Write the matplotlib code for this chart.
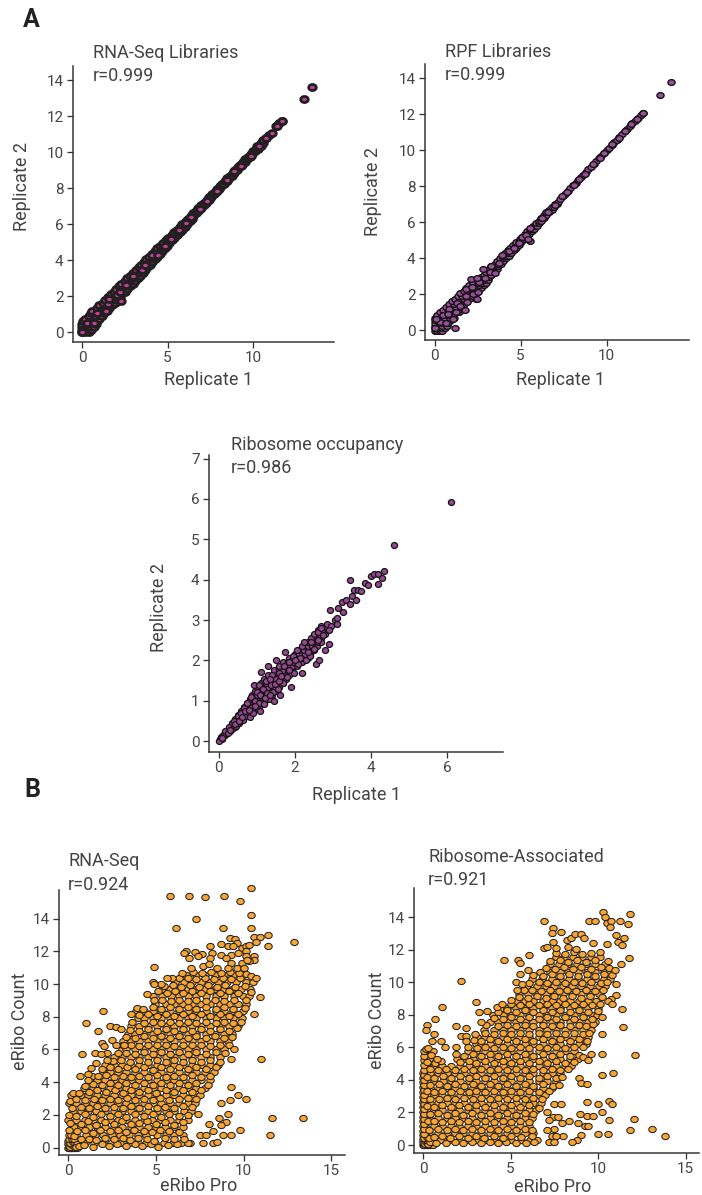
import numpy as np
import matplotlib
matplotlib.use('Agg')
import matplotlib.pyplot as plt
from matplotlib.markers import MarkerStyle
from matplotlib.transforms import Affine2D

plt.rcParams['font.family'] = ['Roboto', 'DejaVu Sans']

# (replicate 1, replicate 2)
rna_lib_pts = [
    (0.0, 0.0), (0.28, 0.5), (0.68, 0.5), (0.9, 1.05), (1.4, 1.2), (1.5, 1.55), (1.6, 1.85), (2.05, 2.05), (2.25, 1.75),
    (2.2, 2.25), (2.55, 2.6), (3.0, 3.1), (3.5, 3.45), (3.7, 3.75), (4.1, 4.3), (4.45, 4.3), (4.85, 4.8), (5.2, 5.2),
    (5.65, 5.65), (6.1, 6.05), (6.35, 6.4), (6.9, 6.85), (7.3, 7.3), (7.9, 7.85), (8.5, 8.45), (8.9, 8.95), (9.3, 9.25),
    (9.85, 9.8), (10.35, 10.35), (10.75, 10.8), (11.4, 11.45), (11.7, 11.75), (12.95, 12.95), (13.45, 13.6),
]
# rows of the dense band: (replicate 2, [replicate 1, ...])
rna_lib_rows = [
    (0.0, [0.0, 0.2, 0.4]), (0.15, [0.0, 0.3, 0.55]), (0.3, [0.0, 0.4, 0.7]), (0.45, [0.0, 0.3, 0.8]), (0.6, [0.05, 0.45, 0.9]),
    (0.75, [0.2, 0.6, 1.0]), (0.9, [0.4, 0.75, 1.15]), (1.05, [0.5, 0.85, 1.3]), (1.2, [0.6, 1.0, 1.45]), (1.35, [0.85, 1.2, 1.6]),
    (1.5, [1.0, 1.35, 1.75]), (1.65, [1.2, 1.5, 1.9]), (1.8, [1.35, 1.7, 2.05]), (1.95, [1.5, 1.85, 2.2]), (2.1, [1.7, 2.0, 2.3]),
    (2.25, [1.85, 2.15, 2.5]), (2.4, [2.0, 2.3, 2.65]), (2.55, [2.15, 2.5, 2.8]), (2.7, [2.3, 2.65, 2.95]), (2.85, [2.5, 2.8, 3.1]),
    (3.0, [2.65, 2.95, 3.25]), (3.15, [2.8, 3.1, 3.4]), (3.3, [2.95, 3.25, 3.55]), (3.45, [3.15, 3.4, 3.7]), (3.6, [3.3, 3.55, 3.8]),
    (3.75, [3.45, 3.7, 3.95]), (3.9, [3.6, 3.85, 4.1]), (4.05, [3.75, 4.0, 4.25]), (4.2, [3.9, 4.15, 4.4]), (4.35, [4.1, 4.3, 4.55]),
    (4.5, [4.25, 4.45, 4.7]), (4.65, [4.4, 4.6, 4.85]), (4.8, [4.55, 4.75, 4.95]), (4.95, [4.75, 4.95, 5.1]), (5.1, [4.9, 5.05, 5.25]),
    (5.25, [5.05, 5.2, 5.4]), (5.4, [5.25, 5.4, 5.55]), (5.55, [5.4, 5.55, 5.7]), (5.7, [5.55, 5.7, 5.85]), (5.85, [5.7, 5.85, 6.0]),
    (6.0, [5.85, 6.0, 6.15]), (6.15, [6.05, 6.2, 6.3]), (6.3, [6.2, 6.35, 6.45]), (6.45, [6.35, 6.5]), (6.6, [6.5, 6.65]),
    (6.75, [6.65, 6.8]), (6.9, [6.8, 6.95]), (7.05, [6.95, 7.1]), (7.2, [7.1, 7.25]), (7.35, [7.3, 7.4]), (7.5, [7.45, 7.55]),
    (7.65, [7.6, 7.7]), (7.8, [7.75, 7.85]), (7.95, [7.9, 8.0]), (8.1, [8.05, 8.15]), (8.25, [8.2, 8.3]), (8.4, [8.35, 8.45]),
    (8.55, [8.5, 8.6]), (8.7, [8.65, 8.75]), (8.85, [8.8, 8.9]), (9.0, [8.95, 9.05]), (9.15, [9.1, 9.2]), (9.3, [9.25, 9.35]),
    (9.45, [9.4, 9.5]), (9.6, [9.55, 9.65]), (9.75, [9.7, 9.8]), (9.9, [9.85, 9.95]), (10.05, [10.0, 10.1]), (10.2, [10.15, 10.3]),
    (10.35, [10.25, 10.45]), (10.5, [10.45, 10.55]), (10.65, [10.6]), (10.8, [10.75]), (10.95, [10.95]), (11.05, [11.1]),
    (11.45, [11.35]), (11.6, [11.5]), (11.75, [11.7]),
]
rpf_lib_pts = [
    (0.0, 0.1), (0.3, 0.45), (0.1, 0.6), (0.5, 0.85), (0.65, 0.4), (0.85, 1.2), (0.8, 0.9), (1.05, 0.6), (1.25, 1.0),
    (1.3, 1.5), (1.5, 1.35), (1.8, 2.3), (1.8, 1.9), (2.15, 2.4), (1.9, 1.55), (2.25, 2.0), (2.6, 2.7), (2.55, 2.15),
    (2.95, 2.9), (3.2, 3.25), (3.3, 3.55), (3.5, 3.2), (3.75, 3.75), (3.9, 4.2), (4.3, 4.4), (4.6, 4.55), (4.9, 4.85),
    (5.1, 5.2), (5.3, 5.3), (5.55, 5.7), (5.55, 4.98), (6.25, 6.25), (6.6, 6.6), (7.0, 6.95), (7.4, 7.45), (7.7, 7.7),
    (8.1, 8.05), (8.4, 8.4), (8.75, 8.7), (9.2, 9.25), (9.6, 9.6), (9.85, 9.85), (10.3, 10.35), (10.7, 10.7), (11.05, 11.1),
    (11.4, 11.45), (11.75, 11.75), (12.15, 12.1), (13.1, 13.1), (13.75, 13.8), (1.2, 0.1), (2.1, 2.85), (2.45, 2.9), (2.45, 1.75),
    (2.8, 3.4), (5.45, 5.05), (1.75, 1.15),
]
rpf_lib_rows = [
    (-0.05, [0.0, 0.15, 0.3, 0.45]), (0.1, [0.0, 0.2, 0.4, 0.6]), (0.25, [0.0, 0.15, 0.4, 0.7]), (0.4, [0.0, 0.25, 0.5, 0.8]),
    (0.55, [0.0, 0.2, 0.45, 0.7, 0.95]), (0.7, [0.05, 0.3, 0.6, 0.9, 1.1]), (0.85, [0.15, 0.45, 0.75, 1.05]), (1.0, [0.3, 0.6, 0.9, 1.25, 1.4]),
    (1.15, [0.5, 0.8, 1.05, 1.35]), (1.3, [0.65, 0.95, 1.25, 1.55]), (1.45, [0.85, 1.1, 1.4, 1.7]), (1.6, [1.0, 1.3, 1.55, 1.8]),
    (1.75, [1.2, 1.45, 1.7, 2.0, 2.4]), (1.9, [1.35, 1.6, 1.9, 2.2]), (2.05, [1.5, 1.8, 2.1, 2.4]), (2.2, [1.7, 1.95, 2.2, 2.5]),
    (2.35, [1.8, 2.1, 2.4, 2.7]), (2.5, [2.0, 2.3, 2.6, 2.85]), (2.65, [2.25, 2.5, 2.75, 3.0]), (2.8, [2.5, 2.7, 2.95, 3.1]),
    (2.95, [2.7, 2.9, 3.15]), (3.1, [2.85, 3.1, 3.3]), (3.25, [3.0, 3.25, 3.45]), (3.4, [3.15, 3.4, 3.6]), (3.55, [3.3, 3.5, 3.7]),
    (3.7, [3.5, 3.7, 3.85]), (3.85, [3.65, 3.85, 4.0]), (4.0, [3.8, 4.0, 4.15]), (4.15, [3.95, 4.15, 4.3]), (4.3, [4.1, 4.3, 4.45]),
    (4.45, [4.25, 4.45, 4.6]), (4.6, [4.4, 4.6, 4.75]), (4.75, [4.55, 4.75, 4.9]), (4.9, [4.75, 4.9, 5.05]), (5.05, [4.95, 5.05, 5.2]),
    (5.2, [5.1, 5.25, 5.35]), (5.35, [5.25, 5.4, 5.5]), (5.5, [5.4, 5.55, 5.65]), (5.65, [5.55, 5.7, 5.8]), (5.8, [5.7, 5.85, 5.95]),
    (5.95, [5.9, 6.05]), (6.1, [6.05, 6.2]), (6.25, [6.2, 6.35]), (6.4, [6.35, 6.5]), (6.55, [6.5, 6.65]), (6.7, [6.65, 6.8]),
    (6.85, [6.85, 6.95]), (7.0, [7.0, 7.1]), (7.15, [7.15]), (7.3, [7.3]), (7.45, [7.45]), (7.6, [7.6]), (7.75, [7.75]), (7.9, [7.9]),
    (8.05, [8.05]), (8.2, [8.2]), (8.35, [8.35]), (8.5, [8.5]), (8.65, [8.65]), (8.8, [8.8]), (8.95, [8.95]), (9.1, [9.1]), (9.25, [9.25]),
    (9.4, [9.4]), (9.55, [9.55]), (9.7, [9.7]), (9.85, [9.85]), (10.0, [10.0]), (10.15, [10.15]), (10.3, [10.3]), (10.45, [10.45]),
    (10.6, [10.6]), (10.75, [10.75]), (10.9, [10.9]), (11.05, [11.05]), (11.2, [11.2]), (11.35, [11.35]), (11.5, [11.5]), (11.65, [11.65]),
    (11.8, [11.85]), (11.95, [12.0]), (12.1, [12.15]),
]
occ_pts = [
    (0.02, 0.0), (0.06, 0.1), (0.12, 0.12), (0.18, 0.25), (0.25, 0.2), (0.28, 0.35), (0.35, 0.3), (0.4, 0.5), (0.45, 0.38),
    (0.5, 0.62), (0.52, 0.44), (0.58, 0.55), (0.6, 0.7), (0.65, 0.52), (0.68, 0.82), (0.72, 0.62), (0.75, 0.95),
    (0.78, 0.72), (0.82, 0.6), (0.85, 1.1), (0.88, 0.85), (0.9, 0.7), (0.92, 1.38), (0.95, 1.0), (1.0, 1.22), (1.0, 0.82),
    (1.05, 1.38), (1.05, 0.95), (1.1, 0.75), (1.12, 1.72), (1.15, 1.1), (1.18, 1.3), (1.2, 0.92), (1.25, 1.5), (1.28, 1.2),
    (1.3, 1.85), (1.32, 1.05), (1.38, 1.4), (1.4, 1.65), (1.42, 1.22), (1.45, 1.0), (1.5, 2.0), (1.5, 1.55), (1.55, 1.3),
    (1.6, 1.7), (1.62, 1.15), (1.7, 1.45), (1.72, 1.85), (1.75, 2.2), (1.8, 1.6), (1.85, 1.95), (1.9, 1.35), (1.95, 2.1),
    (1.98, 1.7), (2.05, 2.25), (2.1, 1.9), (2.15, 2.05), (2.2, 1.7), (2.25, 2.45), (2.3, 2.0), (2.4, 2.1), (2.42, 2.45),
    (2.5, 2.28), (2.55, 1.9), (2.6, 2.7), (2.65, 2.0), (2.7, 2.45), (2.68, 2.8), (2.75, 2.62), (2.8, 2.25), (2.85, 2.9),
    (2.9, 2.4), (2.92, 3.25), (2.95, 2.85), (3.05, 3.0), (3.1, 2.9), (3.12, 3.05), (3.15, 3.3), (3.28, 3.2), (3.25, 3.45),
    (3.35, 3.5), (3.45, 4.0), (3.45, 3.4), (3.5, 3.6), (3.55, 3.75), (3.6, 3.5), (3.65, 3.75), (3.75, 3.73), (3.85, 3.93),
    (3.92, 3.88), (4.0, 4.08), (4.08, 4.13), (4.2, 3.9), (4.2, 4.13), (4.28, 4.05), (4.35, 4.22), (4.62, 4.85), (6.1, 5.93),
    (0.08, 0.08), (0.3, 0.28), (0.42, 0.42), (0.55, 0.5), (0.62, 0.6), (0.7, 0.75), (0.8, 0.78), (0.95, 0.88), (1.1, 1.15),
    (1.22, 1.08), (1.35, 1.15), (1.35, 1.55), (1.48, 1.42), (1.58, 1.5), (1.65, 1.62), (1.85, 1.75), (2.02, 2.0), (2.35, 2.22),
    (2.62, 2.5), (2.9, 2.75),
]
occ_rows = [
    (0.15, [0.12, 0.18]), (0.25, [0.22, 0.3]), (0.35, [0.3, 0.38, 0.42]), (0.45, [0.36, 0.45, 0.55]), (0.55, [0.44, 0.52, 0.64]),
    (0.65, [0.52, 0.6, 0.7, 0.78]), (0.75, [0.58, 0.68, 0.8, 0.9]), (0.85, [0.66, 0.76, 0.86, 0.98, 1.06]), (0.95, [0.74, 0.84, 0.96, 1.1, 1.2]),
    (1.05, [0.82, 0.94, 1.04, 1.18, 1.28]), (1.15, [0.88, 1.0, 1.12, 1.26, 1.4]), (1.25, [0.96, 1.08, 1.2, 1.34, 1.5]), (1.35, [1.04, 1.16, 1.3, 1.44, 1.6]),
    (1.45, [1.12, 1.24, 1.38, 1.52, 1.68]), (1.55, [1.2, 1.32, 1.46, 1.6, 1.76]), (1.65, [1.3, 1.44, 1.56, 1.7, 1.84]), (1.75, [1.46, 1.58, 1.7, 1.82, 1.94]),
    (1.85, [1.6, 1.72, 1.84, 1.96, 2.06]), (1.95, [1.7, 1.82, 1.96, 2.1, 2.2]), (2.05, [1.84, 1.96, 2.08, 2.2, 2.34]), (2.15, [2.0, 2.12, 2.26, 2.4]),
    (2.25, [2.12, 2.24, 2.36, 2.5]), (2.35, [2.2, 2.34, 2.46, 2.58]), (2.45, [2.34, 2.48, 2.62]), (2.55, [2.44, 2.58, 2.7]),
    (2.65, [2.5, 2.64, 2.8]), (2.75, [2.6, 2.72, 2.88]), (2.85, [2.7, 2.82, 2.92]), (0.05, [0.05, 0.08]),
]

# (eRibo Pro, eRibo Count)
rna_seq_pts = [
    (0.05, 0.1), (0.1, 0.05), (0.2, 0.15), (0.3, 0.1), (0.1, 0.3), (0.25, 0.35), (0.4, 0.3), (0.05, 0.5), (0.2, 0.55),
    (0.35, 0.5), (0.5, 0.2), (0.45, 0.05), (0.6, 0.1), (0.05, 0.8), (0.15, 0.75), (0.3, 0.7),
    (0.9, 0.15), (1.4, 0.05), (1.9, 0.2), (2.3, 0.1), (2.8, 0.25), (3.3, 0.1), (3.8, 0.2), (4.2, 0.1), (4.7, 0.2), (5.1, 0.05), (5.7, 0.15), (6.2, 0.25), (6.85, 0.3),
    (0.7, 0.5), (1.2, 0.55), (1.6, 0.45), (2.1, 0.6), (2.6, 0.5), (3.1, 0.6), (3.5, 0.45), (4.0, 0.6), (4.5, 0.55), (4.9, 0.4), (5.5, 0.6), (6.0, 0.5), (6.6, 0.55),
    (0.05, 1.1), (0.5, 1.0), (0.95, 1.05), (1.4, 0.9), (1.8, 1.05), (2.35, 1.0), (2.85, 1.1), (3.3, 0.95), (3.75, 1.05), (4.3, 1.0), (4.75, 0.95), (5.2, 1.1), (5.75, 1.0), (6.3, 0.95),
    (0.1, 1.5), (0.7, 1.45), (1.15, 1.6), (1.6, 1.4), (2.1, 1.55), (2.6, 1.45), (3.05, 1.6), (3.55, 1.45), (4.05, 1.5), (4.5, 1.6), (5.0, 1.45), (5.5, 1.55), (6.05, 1.4), (6.55, 1.55),
    (0.05, 2.0), (0.45, 1.95), (0.95, 2.05), (1.4, 1.9), (1.85, 2.05), (2.35, 1.95), (2.85, 2.05), (3.3, 1.9), (3.8, 2.05), (4.3, 1.95), (4.8, 2.05), (5.3, 1.9), (5.75, 2.05), (6.3, 1.95), (6.85, 2.0),
    (0.2, 2.45), (0.7, 2.5), (1.2, 2.4), (1.65, 2.55), (2.1, 2.45), (2.6, 2.5), (3.1, 2.4), (3.55, 2.55), (4.05, 2.45), (4.55, 2.55), (5.05, 2.4), (5.5, 2.5), (6.05, 2.45), (6.55, 2.55), (7.05, 2.5),
    (0.1, 2.85), (0.45, 3.0), (0.95, 2.9), (1.45, 3.0), (1.9, 2.9), (2.35, 3.0), (2.85, 2.9), (3.35, 3.05), (3.8, 2.9), (4.3, 3.0), (4.8, 2.9), (5.25, 3.05), (5.75, 2.9), (6.3, 3.0), (6.8, 3.05), (7.3, 3.0),
    (0.25, 3.35), (0.6, 3.35), (1.2, 3.4), (1.65, 3.5), (2.15, 3.4), (2.65, 3.5), (3.1, 3.35), (3.55, 3.5), (4.05, 3.4), (4.55, 3.5), (5.0, 3.35), (5.55, 3.5), (6.05, 3.4), (6.55, 3.5), (7.05, 3.4), (7.55, 3.5),
    (0.95, 3.75), (1.4, 3.9), (1.9, 3.85), (2.4, 3.95), (2.85, 3.85), (3.3, 3.95), (3.8, 3.85), (4.3, 3.95), (4.8, 3.85), (5.3, 3.95), (5.8, 3.85), (6.3, 3.95), (6.8, 3.85), (7.3, 3.95), (7.95, 3.85),
    (1.35, 4.4), (1.7, 4.35), (2.15, 4.45), (2.6, 4.3), (3.1, 4.4), (3.55, 4.3), (4.05, 4.4), (4.55, 4.3), (5.05, 4.45), (5.55, 4.3), (6.05, 4.4), (6.55, 4.3), (7.05, 4.45), (7.55, 4.3), (8.1, 4.4),
    (1.9, 4.8), (2.4, 4.9), (2.85, 4.8), (3.35, 4.9), (3.8, 4.8), (4.3, 4.9), (4.8, 4.75), (5.3, 4.9), (5.8, 4.8), (6.3, 4.9), (6.8, 4.8), (7.3, 4.9), (7.85, 4.8), (8.4, 4.9),
    (2.55, 5.3), (3.0, 5.35), (3.5, 5.25), (4.05, 5.35), (4.55, 5.25), (5.05, 5.35), (5.55, 5.25), (6.05, 5.35), (6.55, 5.25), (7.05, 5.35), (7.55, 5.25), (8.1, 5.35), (8.65, 5.25),
    (2.85, 5.8), (3.3, 5.8), (3.8, 5.75), (4.3, 5.85), (4.8, 5.75), (5.3, 5.85), (5.8, 5.75), (6.3, 5.85), (6.8, 5.75), (7.3, 5.85), (7.85, 5.75), (8.4, 5.85), (8.95, 5.8),
    (3.1, 6.25), (3.55, 6.3), (4.05, 6.2), (4.55, 6.3), (5.05, 6.25), (5.55, 6.3), (6.05, 6.2), (6.55, 6.3), (7.05, 6.25), (7.55, 6.3), (8.1, 6.2), (8.65, 6.3), (9.15, 6.25),
    (3.3, 6.75), (3.8, 6.7), (4.3, 6.8), (4.8, 6.7), (5.3, 6.8), (5.8, 6.7), (6.3, 6.8), (6.8, 6.7), (7.3, 6.8), (7.85, 6.7), (8.35, 6.8), (8.9, 6.7), (9.35, 6.75),
    (3.5, 7.2), (4.05, 7.15), (4.55, 7.25), (5.05, 7.15), (5.55, 7.25), (6.05, 7.15), (6.55, 7.25), (7.05, 7.15), (7.55, 7.25), (8.1, 7.15), (8.65, 7.25), (9.15, 7.15), (9.6, 7.3),
    (3.65, 7.7), (4.3, 7.6), (4.8, 7.7), (5.3, 7.6), (5.8, 7.7), (6.3, 7.6), (6.8, 7.7), (7.3, 7.6), (7.85, 7.7), (8.4, 7.6), (8.9, 7.7), (9.4, 7.6), (9.85, 7.7),
    (3.6, 8.15), (4.05, 8.1), (4.55, 8.15), (5.05, 8.05), (5.55, 8.15), (6.05, 8.05), (6.55, 8.15), (7.05, 8.05), (7.55, 8.15), (8.1, 8.05), (8.65, 8.15), (9.15, 8.05), (9.7, 8.15),
    (3.9, 8.55), (4.25, 8.5), (4.8, 8.6), (5.3, 8.5), (5.8, 8.6), (6.3, 8.5), (6.8, 8.6), (7.3, 8.5), (7.85, 8.6), (8.4, 8.5), (8.9, 8.6), (9.4, 8.5), (10.05, 8.55),
    (4.9, 9.0), (5.35, 9.05), (5.85, 8.95), (6.3, 9.05), (6.8, 8.95), (7.3, 9.05), (7.85, 8.95), (8.35, 9.05), (8.9, 8.95), (9.45, 9.05), (10.15, 9.0),
    (5.1, 9.55), (5.6, 9.45), (6.1, 9.55), (6.55, 9.45), (7.05, 9.55), (7.55, 9.45), (8.1, 9.55), (8.65, 9.45), (9.15, 9.55), (9.7, 9.45), (10.4, 9.5),
    (5.45, 9.9), (5.95, 9.95), (6.45, 9.85), (6.95, 9.95), (7.45, 9.85), (7.95, 9.95), (8.45, 9.85), (8.95, 9.95), (9.5, 9.85), (10.05, 9.9),
    (6.3, 10.35), (6.8, 10.4), (7.3, 10.3), (7.8, 10.4), (8.3, 10.3), (8.8, 10.4), (9.3, 10.3), (9.8, 10.4), (10.1, 10.6),
    (6.5, 10.7), (7.1, 10.75), (7.6, 10.65), (8.15, 10.75), (8.7, 10.65), (9.2, 10.75), (9.75, 10.7),
    # sparse points away from the main cloud
    (5.8, 15.4), (6.9, 15.4), (7.8, 15.3), (8.9, 15.4), (9.8, 15.1), (10.4, 15.9), (10.4, 14.2), (7.3, 14.0), (6.15, 13.4),
    (8.8, 13.4), (10.4, 13.4), (12.85, 12.55), (11.4, 12.35), (11.4, 13.0), (4.9, 11.05), (2.0, 8.35), (1.0, 7.6), (1.7, 7.1),
    (2.4, 7.45), (2.7, 7.35), (3.0, 7.25), (0.8, 5.7), (11.0, 5.4), (10.9, 9.2), (10.6, 8.2), (9.45, 6.0), (9.25, 5.4),
    (9.3, 3.7), (9.2, 2.9), (9.65, 3.2), (10.1, 2.95), (8.7, 2.75), (9.1, 2.05), (11.6, 1.8), (13.4, 1.8), (11.5, 0.8),
    (9.8, 1.1), (9.3, 0.8), (8.8, 0.75), (8.0, 1.45), (8.6, 1.8), (9.0, 1.55), (8.7, 1.4), (8.25, 1.0), (7.5, 0.8),
    (7.85, 0.8), (7.7, 0.3), (8.25, 0.3), (8.5, 0.35), (7.4, 2.05),
    (9.2, 12.8), (9.5, 12.75), (9.6, 12.5), (8.7, 12.45), (8.1, 12.35), (9.1, 12.35), (9.4, 12.3), (9.9, 12.2), (10.1, 12.3),
    (10.3, 12.4), (10.6, 12.85), (10.9, 12.85), (10.7, 12.6), (9.3, 11.8), (9.7, 11.9), (10.1, 12.0), (10.1, 11.7), (10.6, 11.7),
    (10.6, 11.45), (10.3, 11.4), (6.7, 12.05), (6.6, 11.9), (7.2, 11.95), (7.6, 11.85), (7.4, 11.7), (6.9, 11.6), (8.2, 11.9),
    (8.1, 11.6), (8.7, 11.8), (9.0, 11.6), (9.3, 11.3), (9.9, 11.3), (10.2, 11.5), (7.0, 11.0), (7.7, 11.1), (8.0, 11.2),
    (8.5, 11.0), (9.1, 11.0), (9.6, 11.0), (10.0, 11.0), (10.4, 10.5), (10.7, 10.35), (5.9, 10.4), (5.6, 10.4), (5.3, 10.0),
    (4.8, 10.1), (4.9, 10.0), (4.5, 9.4), (1.9, 6.4), (2.05, 6.2), (2.2, 5.8), (1.55, 5.8), (1.85, 5.7), (1.6, 5.2), (2.2, 5.35),
    (1.3, 4.85), (0.65, 4.4), (1.1, 4.5), (1.15, 4.15), (2.5, 6.55), (2.7, 6.3), (3.15, 6.3),
]
# rows that sit between the rows above: (eRibo Count, [eRibo Pro, ...])
rna_seq_rows = [
    (0.0, [0.0, 0.1, 0.2, 0.3, 0.15, 0.05, 0.4, 0.5]), (0.2, [0.0, 0.15, 0.3, 0.45, 0.6]), (0.4, [0.0, 0.1, 0.2, 0.3, 0.45, 0.6]),
    (0.3, [0.95, 1.45, 1.95, 2.45, 2.95, 3.45, 3.95, 4.45, 4.95, 5.45, 5.95, 6.4, 6.95]),
    (0.75, [0.45, 1.0, 1.5, 1.95, 2.5, 2.95, 3.45, 4.0, 4.45, 5.05, 5.55, 6.05, 6.55]),
    (1.25, [0.3, 0.75, 1.2, 1.65, 2.1, 2.6, 3.05, 3.55, 4.05, 4.55, 5.0, 5.5, 6.0, 6.55]),
    (1.7, [0.0, 0.45, 0.95, 1.4, 1.85, 2.35, 2.85, 3.3, 3.8, 4.3, 4.75, 5.25, 5.8, 6.3, 6.8]),
    (2.25, [0.25, 0.7, 1.15, 1.6, 2.1, 2.6, 3.05, 3.55, 4.05, 4.55, 5.05, 5.55, 6.05, 6.6, 7.0]),
    (2.7, [0.05, 0.45, 0.95, 1.4, 1.85, 2.35, 2.85, 3.3, 3.8, 4.3, 4.8, 5.3, 5.8, 6.3, 6.8, 7.2]),
    (3.2, [0.15, 0.7, 1.15, 1.65, 2.1, 2.6, 3.05, 3.55, 4.05, 4.55, 5.05, 5.55, 6.05, 6.55, 7.05, 7.5]),
    (3.65, [0.9, 1.4, 1.85, 2.35, 2.85, 3.3, 3.8, 4.3, 4.8, 5.3, 5.8, 6.3, 6.8, 7.3, 7.8]),
    (4.15, [1.2, 1.65, 2.1, 2.6, 3.05, 3.55, 4.05, 4.55, 5.05, 5.55, 6.05, 6.55, 7.05, 7.55, 8.05]),
    (4.6, [1.95, 2.35, 2.85, 3.3, 3.8, 4.3, 4.8, 5.3, 5.8, 6.3, 6.8, 7.3, 7.8, 8.3]),
    (5.05, [2.1, 2.6, 3.05, 3.55, 4.05, 4.55, 5.05, 5.55, 6.05, 6.55, 7.05, 7.55, 8.1, 8.55]),
    (5.55, [2.6, 3.05, 3.55, 4.05, 4.55, 5.05, 5.55, 6.05, 6.55, 7.05, 7.55, 8.1, 8.65]),
    (6.0, [3.05, 3.3, 3.8, 4.3, 4.8, 5.3, 5.8, 6.3, 6.8, 7.3, 7.85, 8.4, 8.9]),
    (6.5, [3.1, 3.55, 4.05, 4.55, 5.05, 5.55, 6.05, 6.55, 7.05, 7.55, 8.1, 8.65, 9.1]),
    (6.95, [3.4, 3.8, 4.3, 4.8, 5.3, 5.8, 6.3, 6.8, 7.3, 7.85, 8.35, 8.9, 9.35]),
    (7.45, [3.6, 4.05, 4.55, 5.05, 5.55, 6.05, 6.55, 7.05, 7.55, 8.1, 8.65, 9.15, 9.65]),
    (7.9, [3.95, 4.3, 4.8, 5.3, 5.8, 6.3, 6.8, 7.3, 7.85, 8.4, 8.9, 9.4, 9.9]),
    (8.35, [3.85, 4.3, 4.8, 5.3, 5.8, 6.3, 6.8, 7.3, 7.85, 8.4, 8.9, 9.4, 9.95]),
    (8.8, [4.95, 5.55, 6.05, 6.55, 7.05, 7.55, 8.1, 8.65, 9.15, 9.7, 10.1]),
    (9.25, [4.85, 5.35, 5.85, 6.3, 6.8, 7.3, 7.85, 8.4, 8.9, 9.45, 9.95, 10.3]),
    (9.7, [5.35, 5.8, 6.3, 6.8, 7.3, 7.8, 8.35, 8.85, 9.35, 9.85, 10.35]),
    (10.15, [6.1, 6.6, 7.05, 7.55, 8.05, 8.55, 9.05, 9.55, 10.1, 10.5]),
    (10.55, [6.7, 7.25, 7.8, 8.35, 8.9, 9.4, 9.95]),
]
ribo_pts = [
    (0.05, 0.1), (0.1, 0.05), (0.2, 0.15), (0.3, 0.05), (0.1, 0.3), (0.25, 0.3), (0.4, 0.2), (0.05, 0.45), (0.2, 0.5), (0.35, 0.45),
    (0.05, 0.7), (0.05, 1.0), (0.05, 1.3), (0.05, 1.6), (0.05, 1.9), (0.05, 2.2), (0.05, 2.5), (0.05, 2.8), (0.05, 3.1), (0.05, 3.4), (0.05, 3.7),
    (0.05, 4.0), (0.05, 4.3), (0.05, 4.6), (0.05, 4.9), (0.05, 5.2), (0.05, 5.5), (0.05, 5.75), (0.15, 5.9), (0.3, 5.95),
    (0.75, 0.15), (1.3, 0.1), (1.8, 0.2), (2.3, 0.1), (2.8, 0.2), (3.3, 0.1), (3.8, 0.2), (4.3, 0.1), (4.75, 0.2), (5.3, 0.1), (5.9, 0.15), (6.35, 0.2),
    (0.6, 0.5), (1.1, 0.55), (1.55, 0.45), (2.05, 0.55), (2.55, 0.45), (3.05, 0.55), (3.5, 0.45), (4.05, 0.55), (4.55, 0.45), (5.05, 0.55), (5.6, 0.5), (6.2, 0.55),
    (0.35, 0.95), (0.85, 1.0), (1.35, 0.9), (1.8, 1.0), (2.3, 0.9), (2.8, 1.0), (3.3, 0.95), (3.8, 1.0), (4.3, 0.9), (4.8, 1.0), (5.3, 0.95), (5.8, 1.0), (6.2, 0.95),
    (0.3, 1.45), (0.6, 1.5), (1.1, 1.4), (1.6, 1.5), (2.05, 1.4), (2.55, 1.5), (3.05, 1.4), (3.55, 1.5), (4.05, 1.4), (4.55, 1.5), (5.05, 1.4), (5.55, 1.5), (6.05, 1.4),
    (0.4, 1.9), (0.85, 1.95), (1.35, 1.85), (1.85, 1.95), (2.3, 1.85), (2.8, 1.95), (3.3, 1.85), (3.8, 1.95), (4.3, 1.85), (4.8, 1.95), (5.3, 1.85), (5.8, 1.95), (6.3, 1.9),
    (0.25, 2.4), (0.65, 2.35), (1.1, 2.45), (1.6, 2.35), (2.05, 2.45), (2.55, 2.35), (3.05, 2.45), (3.55, 2.35), (4.05, 2.45), (4.55, 2.35), (5.05, 2.45), (5.55, 2.35), (6.05, 2.45), (6.6, 2.3),
    (0.4, 2.85), (0.9, 2.8), (1.35, 2.9), (1.85, 2.8), (2.35, 2.9), (2.85, 2.8), (3.3, 2.9), (3.8, 2.8), (4.3, 2.9), (4.8, 2.8), (5.3, 2.9), (5.8, 2.8), (6.3, 2.9), (6.8, 2.85),
    (0.25, 3.3), (0.65, 3.25), (1.1, 3.35), (1.6, 3.25), (2.1, 3.35), (2.6, 3.25), (3.05, 3.35), (3.55, 3.25), (4.05, 3.35), (4.55, 3.25), (5.05, 3.35), (5.55, 3.25), (6.05, 3.35), (6.6, 3.25), (7.2, 3.3),
    (0.4, 3.7), (0.9, 3.75), (1.35, 3.65), (1.85, 3.75), (2.35, 3.65), (2.85, 3.75), (3.3, 3.65), (3.8, 3.75), (4.3, 3.65), (4.8, 3.75), (5.3, 3.65), (5.8, 3.75), (6.3, 3.65), (6.85, 3.75), (7.45, 3.65), (7.75, 3.7),
    (0.25, 4.2), (0.65, 4.15), (1.15, 4.25), (1.6, 4.15), (2.1, 4.25), (2.6, 4.15), (3.05, 4.25), (3.55, 4.15), (4.05, 4.25), (4.55, 4.15), (5.05, 4.25), (5.55, 4.15), (6.05, 4.25), (6.6, 4.15), (7.1, 4.25), (7.6, 4.15), (7.95, 4.2),
    (0.4, 4.65), (0.85, 4.6), (1.3, 4.7), (1.85, 4.6), (2.35, 4.7), (2.85, 4.6), (3.3, 4.7), (3.8, 4.6), (4.3, 4.7), (4.8, 4.6), (5.3, 4.7), (5.8, 4.6), (6.3, 4.7), (6.85, 4.6), (7.35, 4.7), (7.85, 4.6), (8.3, 4.65),
    (0.25, 5.1), (0.7, 5.05), (1.05, 5.15), (2.1, 5.1), (2.6, 5.15), (3.05, 5.05), (3.55, 5.15), (4.05, 5.05), (4.55, 5.15), (5.05, 5.05), (5.55, 5.15), (6.05, 5.05), (6.6, 5.15), (7.1, 5.05), (7.6, 5.15), (8.1, 5.05), (8.6, 5.1),
    (0.45, 5.55), (0.8, 5.3), (1.9, 5.6), (2.35, 5.5), (2.85, 5.6), (3.3, 5.5), (3.8, 5.6), (4.3, 5.5), (4.8, 5.6), (5.3, 5.5), (5.8, 5.6), (6.3, 5.5), (6.85, 5.6), (7.35, 5.5), (7.85, 5.6), (8.4, 5.5), (8.9, 5.55),
    (1.9, 6.0), (2.55, 6.05), (3.1, 5.95), (3.55, 6.05), (4.05, 5.95), (4.55, 6.05), (5.05, 5.95), (5.55, 6.05), (6.05, 5.95), (6.6, 6.05), (7.1, 5.95), (7.6, 6.05), (8.1, 5.95), (8.65, 6.05), (9.15, 6.0),
    (2.9, 6.45), (3.3, 6.4), (3.8, 6.5), (4.3, 6.4), (4.8, 6.5), (5.3, 6.4), (5.8, 6.5), (6.3, 6.4), (6.85, 6.5), (7.35, 6.4), (7.85, 6.5), (8.4, 6.4), (8.9, 6.5), (9.35, 6.4),
    (2.95, 6.8), (3.55, 6.9), (4.05, 6.8), (4.55, 6.9), (5.05, 6.8), (5.55, 6.9), (6.05, 6.8), (6.6, 6.9), (7.1, 6.8), (7.6, 6.9), (8.1, 6.8), (8.65, 6.9), (9.15, 6.8), (9.5, 6.9),
    (3.6, 7.35), (4.3, 7.3), (4.8, 7.4), (5.3, 7.3), (5.8, 7.4), (6.3, 7.3), (6.85, 7.4), (7.35, 7.3), (7.85, 7.4), (8.4, 7.3), (8.9, 7.4), (9.3, 7.3), (9.7, 7.45),
    (3.3, 7.55), (4.05, 7.8), (4.55, 7.75), (5.05, 7.85), (5.55, 7.75), (6.05, 7.85), (6.6, 7.75), (7.1, 7.85), (7.6, 7.75), (8.1, 7.85), (8.65, 7.75), (9.15, 7.85), (9.65, 7.75),
    (3.2, 8.15), (3.65, 8.25), (4.3, 8.2), (4.8, 8.3), (5.3, 8.2), (5.8, 8.3), (6.3, 8.2), (6.85, 8.3), (7.35, 8.2), (7.85, 8.3), (8.4, 8.2), (8.9, 8.3), (9.4, 8.2), (10.0, 8.25),
    (4.2, 8.5), (4.5, 8.65), (5.05, 8.7), (5.55, 8.6), (6.05, 8.7), (6.6, 8.6), (7.1, 8.7), (7.6, 8.6), (8.1, 8.7), (8.65, 8.6), (9.15, 8.7), (9.65, 8.6), (10.1, 8.65),
    (5.05, 8.9), (5.5, 9.1), (6.0, 9.05), (6.5, 9.15), (7.0, 9.05), (7.5, 9.15), (8.0, 9.05), (8.5, 9.15), (9.0, 9.05), (9.55, 9.15), (10.2, 9.1),
    (5.75, 9.5), (6.25, 9.55), (6.75, 9.45), (7.25, 9.55), (7.75, 9.45), (8.25, 9.55), (8.75, 9.45), (9.3, 9.55), (9.8, 9.45), (10.3, 9.5),
    (6.05, 9.95), (6.6, 10.05), (7.1, 9.95), (7.6, 10.05), (8.1, 9.95), (8.6, 10.05), (9.1, 9.95), (9.6, 10.05), (10.15, 9.95), (10.5, 10.05),
    (6.3, 10.45), (6.85, 10.4), (7.35, 10.5), (7.85, 10.4), (8.35, 10.5), (8.85, 10.4), (9.35, 10.5), (9.85, 10.4), (10.35, 10.5), (10.8, 10.45),
    (7.0, 10.9), (7.55, 10.85), (8.05, 10.95), (8.55, 10.85), (9.05, 10.95), (9.6, 10.85), (10.15, 10.95), (10.65, 10.9),
    (7.25, 11.3), (7.8, 11.35), (8.3, 11.25), (8.8, 11.35), (9.3, 11.25), (9.85, 11.35), (10.55, 11.3),
    (7.6, 11.8), (8.1, 11.75), (8.6, 11.85), (9.1, 11.75), (9.6, 11.8), (10.1, 11.85),
    # sparse points away from the main cloud
    (2.15, 10.1), (3.05, 8.8), (1.1, 8.5), (0.7, 7.75), (0.2, 7.35), (0.15, 7.1), (0.6, 6.8), (0.5, 6.4), (1.0, 6.4), (1.25, 6.0),
    (1.9, 7.3), (2.45, 7.2), (2.15, 6.7), (2.45, 6.7), (2.45, 6.4), (4.6, 11.35), (5.4, 11.4), (5.55, 11.2), (6.05, 11.7),
    (6.0, 10.75), (5.55, 10.5), (5.3, 10.05), (5.65, 9.9), (5.35, 9.5), (6.9, 13.75), (7.4, 13.35), (7.35, 13.05), (7.9, 13.1),
    (7.45, 12.5), (6.9, 12.1), (7.1, 12.2), (7.6, 12.1), (8.25, 12.6), (8.45, 12.7), (8.7, 12.95), (9.0, 12.95), (9.2, 12.7),
    (9.7, 12.4), (8.3, 12.2), (8.75, 12.05), (9.5, 13.8), (9.85, 13.8), (10.3, 14.35), (10.4, 14.0), (10.5, 13.65), (10.75, 13.75),
    (10.7, 13.4), (11.25, 13.8), (11.7, 13.6), (11.85, 14.2), (10.5, 12.35), (11.05, 12.9), (11.5, 12.7), (11.15, 12.5), (11.35, 12.3),
    (11.75, 11.5), (11.3, 11.1), (10.95, 10.75), (11.0, 9.9), (11.05, 9.2), (10.75, 8.95), (10.55, 8.85), (10.8, 8.7), (11.35, 8.35),
    (11.45, 7.25), (10.2, 7.85), (10.2, 6.8), (10.25, 5.6), (12.1, 5.55), (10.85, 4.45), (10.2, 4.3), (9.6, 5.6), (9.15, 5.4),
    (9.4, 5.2), (8.9, 4.15), (9.05, 3.8), (9.35, 3.75), (9.35, 2.65), (10.65, 2.7), (10.8, 2.55), (10.0, 2.5), (10.2, 2.05),
    (8.95, 1.9), (9.35, 1.8), (9.7, 1.8), (10.65, 1.55), (12.05, 1.6), (13.1, 1.0), (11.85, 0.9), (13.8, 0.55), (10.55, 0.65),
    (10.0, 0.7), (9.0, 0.6), (8.8, 0.3), (8.5, 0.2), (9.25, 1.2), (9.45, 1.2), (8.85, 1.35), (8.35, 1.5), (7.95, 1.35), (8.0, 0.55),
    (7.5, 2.5), (7.9, 2.5), (7.1, 2.0), (7.4, 1.7), (7.7, 1.75), (7.2, 1.55), (7.5, 1.0), (7.1, 0.95), (7.35, 0.55), (7.6, 0.55), (7.2, 0.2), (7.5, 0.2),
]
ribo_rows = [
    (0.0, [0.0, 0.08, 0.16, 0.24, 0.32, 0.05, 0.4, 0.55]), (0.2, [0.0, 0.12, 0.25, 0.5]), (0.35, [0.0, 0.15, 0.3, 0.45]), (0.6, [0.0, 0.1, 0.25]),
    (0.85, [0.0, 0.1, 0.2]), (1.15, [0.0, 0.12]), (1.45, [0.0, 0.12]), (1.75, [0.0, 0.12]), (2.05, [0.0, 0.12]), (2.35, [0.0, 0.12]), (2.65, [0.0, 0.12]),
    (2.95, [0.0, 0.12]), (3.25, [0.0, 0.12]), (3.55, [0.0, 0.12]), (3.85, [0.0, 0.12]), (4.15, [0.0, 0.12]), (4.45, [0.0, 0.12]),
    (0.3, [0.95, 1.5, 2.05, 2.55, 3.05, 3.55, 4.05, 4.5, 5.05, 5.6, 6.1, 6.5]),
    (0.75, [0.35, 0.85, 1.35, 1.8, 2.3, 2.8, 3.3, 3.8, 4.3, 4.8, 5.3, 5.85, 6.3]),
    (1.2, [0.6, 1.1, 1.6, 2.05, 2.55, 3.05, 3.55, 4.05, 4.55, 5.05, 5.55, 6.05]),
    (1.65, [0.35, 0.85, 1.35, 1.85, 2.3, 2.8, 3.3, 3.8, 4.3, 4.8, 5.3, 5.8, 6.25]),
    (2.15, [0.3, 0.6, 1.1, 1.6, 2.05, 2.55, 3.05, 3.55, 4.05, 4.55, 5.05, 5.55, 6.05, 6.45]),
    (2.6, [0.4, 0.85, 1.35, 1.85, 2.35, 2.85, 3.3, 3.8, 4.3, 4.8, 5.3, 5.8, 6.3, 6.75]),
    (3.05, [0.3, 0.65, 1.1, 1.6, 2.1, 2.6, 3.05, 3.55, 4.05, 4.55, 5.05, 5.55, 6.05, 6.6, 6.95]),
    (3.5, [0.4, 0.9, 1.35, 1.85, 2.35, 2.85, 3.3, 3.8, 4.3, 4.8, 5.3, 5.8, 6.3, 6.85, 7.35]),
    (3.95, [0.25, 0.65, 1.15, 1.6, 2.1, 2.6, 3.05, 3.55, 4.05, 4.55, 5.05, 5.55, 6.05, 6.6, 7.1, 7.6]),
    (4.4, [0.4, 0.85, 1.35, 1.85, 2.35, 2.85, 3.3, 3.8, 4.3, 4.8, 5.3, 5.8, 6.3, 6.85, 7.35, 7.85]),
    (4.85, [0.25, 0.65, 1.1, 1.6, 2.1, 2.6, 3.05, 3.55, 4.05, 4.55, 5.05, 5.55, 6.05, 6.6, 7.1, 7.6, 8.1, 8.45]),
    (5.3, [0.35, 1.95, 2.35, 2.85, 3.3, 3.8, 4.3, 4.8, 5.3, 5.8, 6.3, 6.85, 7.35, 7.85, 8.4, 8.85]),
    (5.75, [0.2, 0.55, 2.55, 3.05, 3.55, 4.05, 4.55, 5.05, 5.55, 6.05, 6.6, 7.1, 7.6, 8.1, 8.65]),
    (6.2, [3.0, 3.3, 3.8, 4.3, 4.8, 5.3, 5.8, 6.3, 6.85, 7.35, 7.85, 8.4, 8.9, 9.3]),
    (6.65, [3.1, 3.55, 4.05, 4.55, 5.05, 5.55, 6.05, 6.6, 7.1, 7.6, 8.1, 8.65, 9.15, 9.45]),
    (7.1, [3.5, 4.05, 4.55, 5.05, 5.55, 6.05, 6.6, 7.1, 7.6, 8.1, 8.65, 9.15, 9.6]),
    (7.55, [3.85, 4.3, 4.8, 5.3, 5.8, 6.3, 6.85, 7.35, 7.85, 8.4, 8.9, 9.4, 9.85]),
    (8.0, [4.0, 4.55, 5.05, 5.55, 6.05, 6.6, 7.1, 7.6, 8.1, 8.65, 9.15, 9.65, 9.95]),
    (8.45, [4.5, 4.8, 5.3, 5.8, 6.3, 6.85, 7.35, 7.85, 8.4, 8.9, 9.4, 10.0]),
    (8.85, [5.3, 5.8, 6.3, 6.85, 7.35, 7.85, 8.4, 8.9, 9.4, 9.9]),
    (9.3, [5.5, 6.0, 6.5, 7.0, 7.5, 8.0, 8.5, 9.0, 9.55, 10.05]),
    (9.75, [5.95, 6.5, 7.0, 7.5, 8.0, 8.5, 9.05, 9.55, 10.05, 10.4]),
    (10.2, [6.25, 6.8, 7.35, 7.85, 8.35, 8.85, 9.35, 9.85, 10.35, 10.7]),
    (10.65, [6.7, 7.25, 7.8, 8.3, 8.85, 9.35, 9.85, 10.35, 10.6]),
    (11.1, [7.25, 7.75, 8.3, 8.8, 9.3, 9.85, 10.4]),
    (11.55, [7.6, 8.05, 8.55, 9.1, 9.6, 10.1]),
]

x_ticks_lib = [0, 5, 10]
y_ticks_lib = [0, 2, 4, 6, 8, 10, 12, 14]
x_ticks_occ = [0, 2, 4, 6]
y_ticks_occ = [0, 1, 2, 3, 4, 5, 6, 7]
x_ticks_b = [0, 5, 10, 15]
y_ticks_b = [0, 2, 4, 6, 8, 10, 12, 14]

W, H = 702, 1195
fig = plt.figure(figsize=(W / 100, H / 100), dpi=100)
DARK = '#333333'
TXT = '#444444'
px = 0.72  # points per pixel at dpi 100


def make_axes(box, xlim, ylim, xticks, yticks):
    # box is left, top, right, bottom in picture pixels
    l, t, r, b = box
    ax = fig.add_axes([l / W, 1 - b / H, (r - l) / W, (b - t) / H])
    ax.set_xlim(*xlim)
    ax.set_ylim(*ylim)
    ax.set_xticks(xticks)
    ax.set_yticks(yticks)
    ax.tick_params(length=6 * px, width=1.3 * px, color=DARK, labelcolor=TXT, labelsize=11, pad=2.5)
    for s in ['top', 'right']:
        ax.spines[s].set_visible(False)
    for s in ['left', 'bottom']:
        ax.spines[s].set_linewidth(1.5 * px)
        ax.spines[s].set_color(DARK)
    return ax


def draw_points(ax, rows, pts, size, fill, edge, lw, stretch=1.25):
    # rows go under, pts on top so that their centres stay visible
    xs = [x for y, row in rows for x in row] + [p[0] for p in pts]
    ys = [y for y, row in rows for x in row] + [p[1] for p in pts]
    mark = MarkerStyle('o', transform=Affine2D().scale(stretch, 1))
    ax.scatter(np.array(xs), np.array(ys), s=size, marker=mark, facecolor=fill, edgecolor=edge,
               linewidth=lw, clip_on=False, zorder=3)


def put_text(x, y, s, size=13, **kw):
    kw.setdefault('color', TXT)
    fig.text(x / W, 1 - y / H, s, fontsize=size, **kw)


# panel A
ax = make_axes((73, 66, 334, 342), (-0.53, 14.73), (-0.54, 14.78), x_ticks_lib, y_ticks_lib)
draw_points(ax, rna_lib_rows, rna_lib_pts, 19, '#c0409a', '#231f20', 2.0)
ax = make_axes((425, 64, 689, 340), (-0.56, 14.8), (-0.54, 14.8), x_ticks_lib, y_ticks_lib)
draw_points(ax, rpf_lib_rows, rpf_lib_pts, 17, '#9a4f98', '#141414', 1.0)
ax = make_axes((209, 455, 503, 752), (-0.25, 7.47), (-0.27, 7.09), x_ticks_occ, y_ticks_occ)
draw_points(ax, occ_rows, occ_pts, 18, '#95478f', '#141414', 0.9, stretch=1.05)

# panel B
ax = make_axes((59, 890, 345, 1155), (-0.53, 15.77), (-0.45, 15.75), x_ticks_b, y_ticks_b)
draw_points(ax, rna_seq_rows, rna_seq_pts, 20, '#f9a533', '#222222', 0.75, stretch=1.2)
ax = make_axes((414, 888, 699, 1153), (-0.52, 15.77), (-0.49, 15.8), x_ticks_b, y_ticks_b)
draw_points(ax, ribo_rows, ribo_pts, 20, '#f9a533', '#222222', 0.75, stretch=1.2)

# titles, axis labels and panel letters
put_text(93, 58, 'RNA-Seq Libraries')
put_text(93, 81, 'r=0.999')
put_text(445, 57, 'RPF Libraries')
put_text(445, 80, 'r=0.999')
put_text(231, 450, 'Ribosome occupancy')
put_text(231, 473, 'r=0.986')
put_text(68, 866, 'RNA-Seq')
put_text(68, 890, 'r=0.924')
put_text(428, 862, 'Ribosome-Associated')
put_text(428, 885, 'r=0.921')

for x, y, s in [(208, 380, 'Replicate 1'), (560, 380, 'Replicate 1'), (357, 795, 'Replicate 1'),
                (199, 1186, 'eRibo Pro'), (553, 1187, 'eRibo Pro')]:
    put_text(x, y, s, ha='center', va='center')
for x, y, s in [(22, 187, 'Replicate 2'), (373, 191, 'Replicate 2'), (159, 608, 'Replicate 2'),
                (20, 1021, 'eRibo Count'), (377, 1020, 'eRibo Count')]:
    put_text(x, y, s, ha='center', va='center', rotation=90)

put_text(23, 27, 'A', size=18, fontweight='bold', color='#222222')
put_text(24, 797, 'B', size=18, fontweight='bold', color='#222222')

fig.savefig('out.png', dpi=100)
